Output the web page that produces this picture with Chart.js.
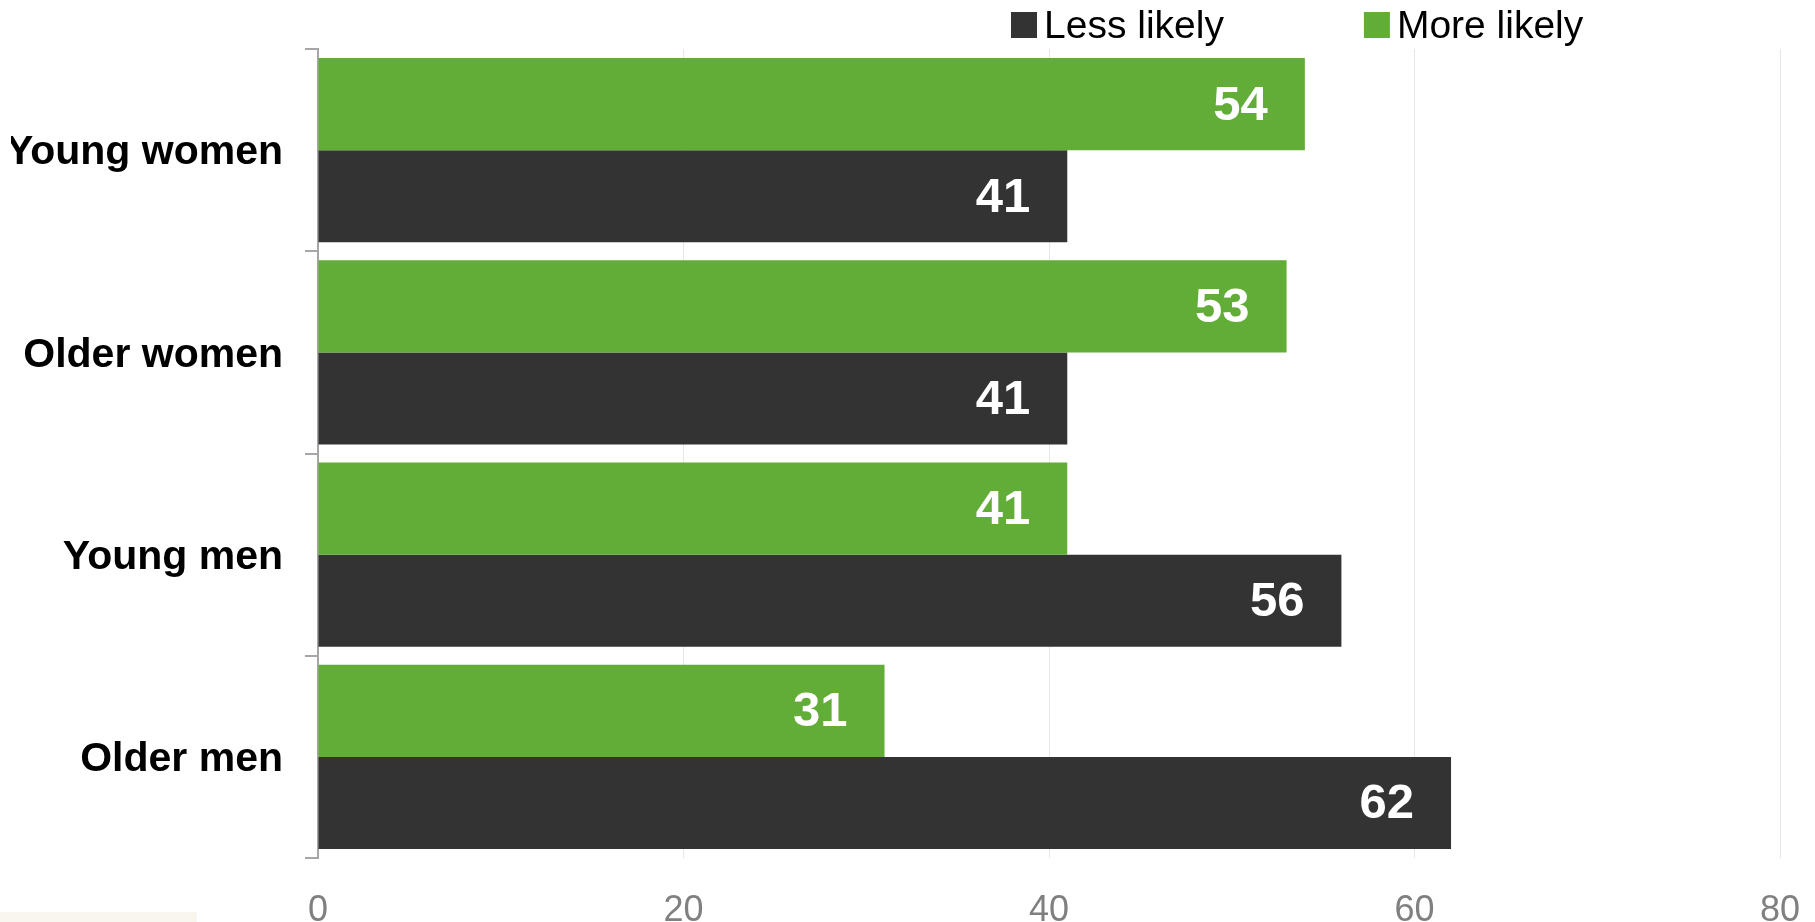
<!DOCTYPE html>
<html lang="en">
<head>
    <meta charset="UTF-8">
    <title> Likelihood by group </title>
    <style>
        html, body { margin: 0; padding: 0; background: #fff; }
        #wrap { position: relative; width: 1815px; height: 922px; }
        #strip { position: absolute; left: 0; top: 912px; width: 197px; height: 10px; background: #f9f6f0; }
    </style>
</head>
<body>
    <div id="wrap">
        <canvas id="chart" width="1815" height="922"></canvas>
        <div id="strip"></div>
    </div>
</body>
<script src="https://cdn.jsdelivr.net/npm/chart.js@4.4.1/dist/chart.umd.min.js"></script>
<script>
    // data
    const groups = ['Young women', 'Older women', 'Young men', 'Older men']
    const moreLikely = [54, 53, 41, 31]
    const lessLikely = [41, 41, 56, 62]
    const xTicks = [0, 20, 40, 60, 80]

    const green = '#62ac38'
    const dark = '#333333'
    const font = '"Liberation Sans", Arial, sans-serif'

    // white value labels inside the bar ends
    const valueLabels = {
        id: 'valueLabels',
        afterDatasetsDraw(chart) {
            const ctx = chart.ctx
            ctx.save()
            ctx.fillStyle = '#ffffff'
            ctx.font = 'bold 49px ' + font
            ctx.textAlign = 'right'
            ctx.textBaseline = 'middle'
            chart.data.datasets.forEach((ds, i) => {
                chart.getDatasetMeta(i).data.forEach((bar, j) => {
                    ctx.fillText(ds.data[j], bar.x - 37, bar.y + 2)
                })
            })
            ctx.restore()
        }
    }

    // legend drawn in the top right, "Less likely" first
    const topLegend = {
        id: 'topLegend',
        afterDraw(chart) {
            const ctx = chart.ctx
            ctx.save()
            ctx.font = '39px ' + font
            ctx.textBaseline = 'alphabetic'
            let x = 1011
            const items = chart.data.datasets.slice().reverse()
            items.forEach(ds => {
                ctx.fillStyle = ds.backgroundColor
                ctx.fillRect(x, 12, 26, 26)
                ctx.fillStyle = '#000000'
                ctx.fillText(ds.label, x + 33, 38)
                x += 33 + ctx.measureText(ds.label).width + 140
            })
            ctx.restore()
        }
    }

    const ctx = document.getElementById('chart').getContext('2d')
    const myChart = new Chart(ctx, {
        type: 'bar',
        data: {
            labels: groups,
            datasets: [{
                label: 'More likely',
                data: moreLikely,
                backgroundColor: green,
                categoryPercentage: 0.91,
                barPercentage: 1.0
            }, {
                label: 'Less likely',
                data: lessLikely,
                backgroundColor: dark,
                categoryPercentage: 0.91,
                barPercentage: 1.0
            }]
        },
        options: {
            indexAxis: 'y',
            responsive: false,
            animation: false,
            layout: {
                padding: { top: 49, left: 11, right: 35, bottom: 0 }
            },
            plugins: {
                legend: { display: false },
                tooltip: { enabled: false }
            },
            scales: {
                x: {
                    min: xTicks[0],
                    max: xTicks[xTicks.length - 1],
                    afterBuildTicks: axis => { axis.ticks = xTicks.map(v => ({ value: v })) },
                    afterFit: axis => {
                        axis.height = 64
                        axis.paddingRight = 35
                    },
                    grid: { color: '#e6e6e6', lineWidth: 1, drawTicks: false },
                    border: { display: false },
                    ticks: {
                        color: '#808080',
                        padding: 35,
                        font: { family: font, size: 36, lineHeight: 1 }
                    }
                },
                y: {
                    afterFit: axis => { axis.width = 307 },
                    grid: {
                        drawOnChartArea: false,
                        offset: true,
                        tickLength: 13,
                        color: '#a6a6a6',
                        lineWidth: 2
                    },
                    border: { color: '#a6a6a6', width: 2 },
                    ticks: {
                        color: '#000000',
                        padding: 22,
                        labelOffset: 3,
                        font: { family: font, size: 41, weight: 'bold' }
                    }
                }
            }
        },
        plugins: [valueLabels, topLegend]
    })
</script>
</html>
